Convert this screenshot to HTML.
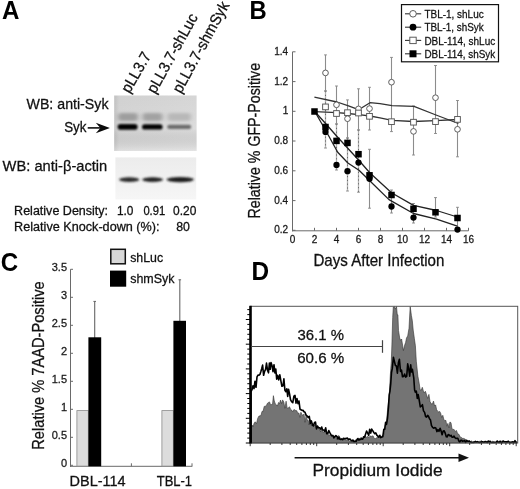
<!DOCTYPE html>
<html><head><meta charset="utf-8"><style>
html,body{margin:0;padding:0;background:#fff;}
svg{display:block;will-change:transform;}
text{font-family:"Liberation Sans", sans-serif;}
</style></head><body>
<svg width="520" height="489" viewBox="0 0 520 489" font-family="Liberation Sans, sans-serif">
<rect width="520" height="489" fill="#fff"/>
<text x="2.0" y="19" font-size="26" text-anchor="start" fill="#000" font-weight="bold" textLength="17.4" lengthAdjust="spacingAndGlyphs" >A</text>
<text x="249.4" y="19" font-size="26" text-anchor="start" fill="#000" font-weight="bold" textLength="17.2" lengthAdjust="spacingAndGlyphs" >B</text>
<text x="0.8" y="270.9" font-size="26" text-anchor="start" fill="#000" font-weight="bold" textLength="17.4" lengthAdjust="spacingAndGlyphs" >C</text>
<text x="251.6" y="280.2" font-size="26" text-anchor="start" fill="#000" font-weight="bold" textLength="17.6" lengthAdjust="spacingAndGlyphs" >D</text>
<text x="0" y="0" font-size="15.5" fill="#111" stroke="#111" stroke-width="0.28" textLength="44" lengthAdjust="spacingAndGlyphs" transform="translate(129.4,94) rotate(-60)">pLL3.7</text>
<text x="0" y="0" font-size="15.5" fill="#111" stroke="#111" stroke-width="0.28" textLength="88.5" lengthAdjust="spacingAndGlyphs" transform="translate(155.3,94.6) rotate(-61)">pLL3.7-shLuc</text>
<text x="0" y="0" font-size="15.5" fill="#111" stroke="#111" stroke-width="0.28" textLength="101.5" lengthAdjust="spacingAndGlyphs" transform="translate(180.9,94.2) rotate(-61.3)">pLL3.7-shmSyk</text>
<defs><filter id="bl1" x="-20%" y="-100%" width="140%" height="300%"><feGaussianBlur stdDeviation="1.2 0.9"/></filter><filter id="bl2" x="-20%" y="-100%" width="140%" height="300%"><feGaussianBlur stdDeviation="2 1.5"/></filter><linearGradient id="blotg" x1="0" x2="1" y1="0" y2="0"><stop offset="0" stop-color="#c6c6c6"/><stop offset="0.06" stop-color="#d7d7d7"/><stop offset="1" stop-color="#dcdcdc"/></linearGradient><linearGradient id="blotg2" x1="0" x2="0" y1="0" y2="1"><stop offset="0" stop-color="#ececec"/><stop offset="0.5" stop-color="#f1f1f1"/><stop offset="1" stop-color="#f6f6f6"/></linearGradient><linearGradient id="blotv" x1="0" x2="0" y1="0" y2="1"><stop offset="0" stop-color="#000" stop-opacity="0.03"/><stop offset="0.6" stop-color="#000" stop-opacity="0"/><stop offset="1" stop-color="#fff" stop-opacity="0.25"/></linearGradient></defs>
<rect x="114.2" y="95.5" width="82.4" height="55.5" fill="url(#blotg)"/>
<rect x="114.2" y="95.5" width="82.4" height="55.5" fill="url(#blotv)"/>
<rect x="118" y="113" width="20" height="8" rx="3" fill="#9e9e9e" filter="url(#bl2)"/>
<rect x="142.5" y="113" width="20.0" height="8" rx="3" fill="#a2a2a2" filter="url(#bl2)"/>
<rect x="167.5" y="113" width="23.5" height="8" rx="3" fill="#b8b8b8" filter="url(#bl2)"/>
<rect x="117.6" y="124.10000000000001" width="20.0" height="5.6" rx="2.8" fill="#000" filter="url(#bl1)"/>
<rect x="142" y="124.2" width="20.599999999999994" height="5.4" rx="2.7" fill="#000" filter="url(#bl1)"/>
<rect x="167.2" y="124.80000000000001" width="24.0" height="4.2" rx="2.1" fill="#6a6a6a" filter="url(#bl1)"/>
<rect x="115.4" y="157.4" width="80.8" height="42" fill="url(#blotg2)"/>
<ellipse cx="129.2" cy="179.6" rx="10.200000000000003" ry="2.3" fill="#2a2a2a" filter="url(#bl1)"/>
<ellipse cx="152.6" cy="179.6" rx="10.400000000000006" ry="2.3" fill="#222" filter="url(#bl1)"/>
<ellipse cx="180.25" cy="179.6" rx="13.550000000000011" ry="2.6" fill="#1c1c1c" filter="url(#bl1)"/>
<text x="108.5" y="109.4" font-size="15.2" text-anchor="end" fill="#111" stroke="#111" stroke-width="0.28" textLength="82" lengthAdjust="spacingAndGlyphs" >WB: anti-Syk</text>
<text x="86.5" y="132" font-size="15.2" text-anchor="end" fill="#111" stroke="#111" stroke-width="0.28" textLength="22.3" lengthAdjust="spacingAndGlyphs" >Syk</text>
<line x1="87.7" y1="127.9" x2="101" y2="127.9" stroke="#111" stroke-width="1.6"/>
<path d="M109.9,127.9 L95.8,122.7 L100.4,127.9 L95.8,133.3 Z" fill="#0a0a0a"/>
<text x="2.6" y="171.3" font-size="15.2" text-anchor="start" fill="#111" stroke="#111" stroke-width="0.28" textLength="104.7" lengthAdjust="spacingAndGlyphs" >WB: anti-β-actin</text>
<text x="14.1" y="214.8" font-size="12.5" text-anchor="start" fill="#111" stroke="#111" stroke-width="0.28" textLength="94" lengthAdjust="spacingAndGlyphs" >Relative Density:</text>
<text x="116.9" y="214.8" font-size="12.5" text-anchor="start" fill="#111" stroke="#111" stroke-width="0.28" textLength="16.5" lengthAdjust="spacingAndGlyphs" >1.0</text>
<text x="143.4" y="214.8" font-size="12.5" text-anchor="start" fill="#111" stroke="#111" stroke-width="0.28" textLength="21.8" lengthAdjust="spacingAndGlyphs" >0.91</text>
<text x="173" y="214.8" font-size="12.5" text-anchor="start" fill="#111" stroke="#111" stroke-width="0.28" textLength="23.3" lengthAdjust="spacingAndGlyphs" >0.20</text>
<text x="14.1" y="231.3" font-size="12.5" text-anchor="start" fill="#111" stroke="#111" stroke-width="0.28" textLength="145.4" lengthAdjust="spacingAndGlyphs" >Relative Knock-down (%):</text>
<text x="176.2" y="231.3" font-size="12.5" text-anchor="start" fill="#111" stroke="#111" stroke-width="0.28" textLength="13.7" lengthAdjust="spacingAndGlyphs" >80</text>
<line x1="292.5" y1="51.8" x2="292.5" y2="231.3" stroke="#6a6a6a" stroke-width="1"/>
<line x1="292" y1="230.8" x2="468.5" y2="230.8" stroke="#6a6a6a" stroke-width="1"/>
<line x1="292.5" y1="230.3" x2="295.5" y2="230.3" stroke="#6a6a6a" stroke-width="1"/>
<text x="288.2" y="233.4" font-size="10" text-anchor="end" fill="#1a1a1a" stroke="#1a1a1a" stroke-width="0.28" >0.2</text>
<line x1="292.5" y1="200.6" x2="295.5" y2="200.6" stroke="#6a6a6a" stroke-width="1"/>
<text x="288.2" y="203.7" font-size="10" text-anchor="end" fill="#1a1a1a" stroke="#1a1a1a" stroke-width="0.28" >0.4</text>
<line x1="292.5" y1="170.8" x2="295.5" y2="170.8" stroke="#6a6a6a" stroke-width="1"/>
<text x="288.2" y="173.9" font-size="10" text-anchor="end" fill="#1a1a1a" stroke="#1a1a1a" stroke-width="0.28" >0.6</text>
<line x1="292.5" y1="141.0" x2="295.5" y2="141.0" stroke="#6a6a6a" stroke-width="1"/>
<text x="288.2" y="144.1" font-size="10" text-anchor="end" fill="#1a1a1a" stroke="#1a1a1a" stroke-width="0.28" >0.8</text>
<line x1="292.5" y1="111.3" x2="295.5" y2="111.3" stroke="#6a6a6a" stroke-width="1"/>
<text x="288.2" y="114.39999999999999" font-size="10" text-anchor="end" fill="#1a1a1a" stroke="#1a1a1a" stroke-width="0.28" >1</text>
<line x1="292.5" y1="81.6" x2="295.5" y2="81.6" stroke="#6a6a6a" stroke-width="1"/>
<text x="288.2" y="84.69999999999999" font-size="10" text-anchor="end" fill="#1a1a1a" stroke="#1a1a1a" stroke-width="0.28" >1.2</text>
<line x1="292.5" y1="51.8" x2="295.5" y2="51.8" stroke="#6a6a6a" stroke-width="1"/>
<text x="288.2" y="54.9" font-size="10" text-anchor="end" fill="#1a1a1a" stroke="#1a1a1a" stroke-width="0.28" >1.4</text>
<line x1="292.5" y1="230.8" x2="292.5" y2="227.8" stroke="#6a6a6a" stroke-width="1"/>
<text x="292.5" y="243.2" font-size="10" text-anchor="middle" fill="#1a1a1a" stroke="#1a1a1a" stroke-width="0.28" >0</text>
<line x1="314.5" y1="230.8" x2="314.5" y2="227.8" stroke="#6a6a6a" stroke-width="1"/>
<text x="314.5" y="243.2" font-size="10" text-anchor="middle" fill="#1a1a1a" stroke="#1a1a1a" stroke-width="0.28" >2</text>
<line x1="336.5" y1="230.8" x2="336.5" y2="227.8" stroke="#6a6a6a" stroke-width="1"/>
<text x="336.5" y="243.2" font-size="10" text-anchor="middle" fill="#1a1a1a" stroke="#1a1a1a" stroke-width="0.28" >4</text>
<line x1="358.5" y1="230.8" x2="358.5" y2="227.8" stroke="#6a6a6a" stroke-width="1"/>
<text x="358.5" y="243.2" font-size="10" text-anchor="middle" fill="#1a1a1a" stroke="#1a1a1a" stroke-width="0.28" >6</text>
<line x1="380.5" y1="230.8" x2="380.5" y2="227.8" stroke="#6a6a6a" stroke-width="1"/>
<text x="380.5" y="243.2" font-size="10" text-anchor="middle" fill="#1a1a1a" stroke="#1a1a1a" stroke-width="0.28" >8</text>
<line x1="402.5" y1="230.8" x2="402.5" y2="227.8" stroke="#6a6a6a" stroke-width="1"/>
<text x="402.5" y="243.2" font-size="10" text-anchor="middle" fill="#1a1a1a" stroke="#1a1a1a" stroke-width="0.28" >10</text>
<line x1="424.5" y1="230.8" x2="424.5" y2="227.8" stroke="#6a6a6a" stroke-width="1"/>
<text x="424.5" y="243.2" font-size="10" text-anchor="middle" fill="#1a1a1a" stroke="#1a1a1a" stroke-width="0.28" >12</text>
<line x1="446.5" y1="230.8" x2="446.5" y2="227.8" stroke="#6a6a6a" stroke-width="1"/>
<text x="446.5" y="243.2" font-size="10" text-anchor="middle" fill="#1a1a1a" stroke="#1a1a1a" stroke-width="0.28" >14</text>
<line x1="468.5" y1="230.8" x2="468.5" y2="227.8" stroke="#6a6a6a" stroke-width="1"/>
<text x="468.5" y="243.2" font-size="10" text-anchor="middle" fill="#1a1a1a" stroke="#1a1a1a" stroke-width="0.28" >16</text>
<text x="313.4" y="265.8" font-size="15.7" text-anchor="start" fill="#111" stroke="#111" stroke-width="0.28" textLength="131" lengthAdjust="spacingAndGlyphs" >Days After Infection</text>
<text x="0" y="0" font-size="16" fill="#111" stroke="#111" stroke-width="0.28" textLength="155.6" lengthAdjust="spacingAndGlyphs" transform="translate(259.7,218.5) rotate(-90)">Relative % GFP-Positive</text>
<line x1="325.5" y1="54.9" x2="325.5" y2="91" stroke="#8c8c8c" stroke-width="1.1"/>
<line x1="324.1" y1="54.9" x2="326.9" y2="54.9" stroke="#8c8c8c" stroke-width="1"/>
<line x1="324.1" y1="91" x2="326.9" y2="91" stroke="#8c8c8c" stroke-width="1"/>
<line x1="325.5" y1="91" x2="325.5" y2="148" stroke="#b4b4b4" stroke-width="1.3"/>
<line x1="325.5" y1="91" x2="325.5" y2="148" stroke="#6a6a6a" stroke-width="1" stroke-dasharray="1.2 2.6"/>
<line x1="324.1" y1="91" x2="326.9" y2="91" stroke="#8c8c8c" stroke-width="1"/>
<line x1="324.1" y1="148" x2="326.9" y2="148" stroke="#8c8c8c" stroke-width="1"/>
<line x1="336.5" y1="86" x2="336.5" y2="124" stroke="#8c8c8c" stroke-width="1.1"/>
<line x1="335.1" y1="86" x2="337.9" y2="86" stroke="#8c8c8c" stroke-width="1"/>
<line x1="335.1" y1="124" x2="337.9" y2="124" stroke="#8c8c8c" stroke-width="1"/>
<line x1="336.5" y1="124" x2="336.5" y2="170" stroke="#b4b4b4" stroke-width="1.3"/>
<line x1="336.5" y1="124" x2="336.5" y2="170" stroke="#6a6a6a" stroke-width="1" stroke-dasharray="1.2 2.6"/>
<line x1="335.1" y1="124" x2="337.9" y2="124" stroke="#8c8c8c" stroke-width="1"/>
<line x1="335.1" y1="170" x2="337.9" y2="170" stroke="#8c8c8c" stroke-width="1"/>
<line x1="347.5" y1="99.9" x2="347.5" y2="138" stroke="#8c8c8c" stroke-width="1.1"/>
<line x1="346.1" y1="99.9" x2="348.9" y2="99.9" stroke="#8c8c8c" stroke-width="1"/>
<line x1="346.1" y1="138" x2="348.9" y2="138" stroke="#8c8c8c" stroke-width="1"/>
<line x1="347.5" y1="138" x2="347.5" y2="191" stroke="#b4b4b4" stroke-width="1.3"/>
<line x1="347.5" y1="138" x2="347.5" y2="191" stroke="#6a6a6a" stroke-width="1" stroke-dasharray="1.2 2.6"/>
<line x1="346.1" y1="138" x2="348.9" y2="138" stroke="#8c8c8c" stroke-width="1"/>
<line x1="346.1" y1="191" x2="348.9" y2="191" stroke="#8c8c8c" stroke-width="1"/>
<line x1="358.5" y1="88.8" x2="358.5" y2="130" stroke="#8c8c8c" stroke-width="1.1"/>
<line x1="357.1" y1="88.8" x2="359.9" y2="88.8" stroke="#8c8c8c" stroke-width="1"/>
<line x1="357.1" y1="130" x2="359.9" y2="130" stroke="#8c8c8c" stroke-width="1"/>
<line x1="358.5" y1="130" x2="358.5" y2="192.2" stroke="#b4b4b4" stroke-width="1.3"/>
<line x1="358.5" y1="130" x2="358.5" y2="192.2" stroke="#6a6a6a" stroke-width="1" stroke-dasharray="1.2 2.6"/>
<line x1="357.1" y1="130" x2="359.9" y2="130" stroke="#8c8c8c" stroke-width="1"/>
<line x1="357.1" y1="192.2" x2="359.9" y2="192.2" stroke="#8c8c8c" stroke-width="1"/>
<line x1="369.5" y1="87.3" x2="369.5" y2="130" stroke="#8c8c8c" stroke-width="1.1"/>
<line x1="368.1" y1="87.3" x2="370.9" y2="87.3" stroke="#8c8c8c" stroke-width="1"/>
<line x1="368.1" y1="130" x2="370.9" y2="130" stroke="#8c8c8c" stroke-width="1"/>
<line x1="369.5" y1="149.3" x2="369.5" y2="208.2" stroke="#8c8c8c" stroke-width="1.1"/>
<line x1="368.1" y1="149.3" x2="370.9" y2="149.3" stroke="#8c8c8c" stroke-width="1"/>
<line x1="368.1" y1="208.2" x2="370.9" y2="208.2" stroke="#8c8c8c" stroke-width="1"/>
<line x1="391.5" y1="57.4" x2="391.5" y2="131.6" stroke="#8c8c8c" stroke-width="1.1"/>
<line x1="390.1" y1="57.4" x2="392.9" y2="57.4" stroke="#8c8c8c" stroke-width="1"/>
<line x1="390.1" y1="131.6" x2="392.9" y2="131.6" stroke="#8c8c8c" stroke-width="1"/>
<line x1="391.5" y1="190" x2="391.5" y2="213" stroke="#8c8c8c" stroke-width="1.1"/>
<line x1="390.1" y1="190" x2="392.9" y2="190" stroke="#8c8c8c" stroke-width="1"/>
<line x1="390.1" y1="213" x2="392.9" y2="213" stroke="#8c8c8c" stroke-width="1"/>
<line x1="413.5" y1="106" x2="413.5" y2="155" stroke="#8c8c8c" stroke-width="1.1"/>
<line x1="412.1" y1="106" x2="414.9" y2="106" stroke="#8c8c8c" stroke-width="1"/>
<line x1="412.1" y1="155" x2="414.9" y2="155" stroke="#8c8c8c" stroke-width="1"/>
<line x1="413.5" y1="203.5" x2="413.5" y2="223" stroke="#8c8c8c" stroke-width="1.1"/>
<line x1="412.1" y1="203.5" x2="414.9" y2="203.5" stroke="#8c8c8c" stroke-width="1"/>
<line x1="412.1" y1="223" x2="414.9" y2="223" stroke="#8c8c8c" stroke-width="1"/>
<line x1="435.5" y1="65.5" x2="435.5" y2="133.5" stroke="#8c8c8c" stroke-width="1.1"/>
<line x1="434.1" y1="65.5" x2="436.9" y2="65.5" stroke="#8c8c8c" stroke-width="1"/>
<line x1="434.1" y1="133.5" x2="436.9" y2="133.5" stroke="#8c8c8c" stroke-width="1"/>
<line x1="435.5" y1="197.6" x2="435.5" y2="217" stroke="#8c8c8c" stroke-width="1.1"/>
<line x1="434.1" y1="197.6" x2="436.9" y2="197.6" stroke="#8c8c8c" stroke-width="1"/>
<line x1="434.1" y1="217" x2="436.9" y2="217" stroke="#8c8c8c" stroke-width="1"/>
<line x1="457.5" y1="100.5" x2="457.5" y2="156.8" stroke="#8c8c8c" stroke-width="1.1"/>
<line x1="456.1" y1="100.5" x2="458.9" y2="100.5" stroke="#8c8c8c" stroke-width="1"/>
<line x1="456.1" y1="156.8" x2="458.9" y2="156.8" stroke="#8c8c8c" stroke-width="1"/>
<line x1="457.5" y1="207.3" x2="457.5" y2="228.7" stroke="#8c8c8c" stroke-width="1.1"/>
<line x1="456.1" y1="207.3" x2="458.9" y2="207.3" stroke="#8c8c8c" stroke-width="1"/>
<line x1="456.1" y1="228.7" x2="458.9" y2="228.7" stroke="#8c8c8c" stroke-width="1"/>
<polyline points="314.4,97.1 337.0,102.0 347.8,105.6 358.6,109.7 370.0,102.7 380.0,103.7 392.0,105.6 414.0,106.4 436.0,115.0 458.4,123.5" fill="none" stroke="#333" stroke-width="1.3" stroke-linejoin="round" />
<polyline points="314.7,111.7 337.0,112.7 347.8,113.5 358.9,114.6 370.0,116.0 380.0,117.9 392.0,120.3 413.5,121.5 435.4,120.7 458.0,119.5" fill="none" stroke="#333" stroke-width="1.3" stroke-linejoin="round" />
<polyline points="314.8,111.5 326.0,124.0 337.0,136.5 348.0,148.5 359.0,160.5 370.0,173.0 391.5,192.7 413.5,205.4 436.5,210.5 457.3,217.0" fill="none" stroke="#222" stroke-width="1.3" stroke-linejoin="round" />
<polyline points="314.8,111.5 326.0,131.0 337.7,152.3 347.9,163.0 359.0,170.3 370.0,181.0 389.0,199.6 413.5,213.5 436.5,219.2 457.3,226.2" fill="none" stroke="#222" stroke-width="1.3" stroke-linejoin="round" />
<circle cx="325.5" cy="72.9" r="2.85" fill="#fff" stroke="#555" stroke-width="0.95"/>
<circle cx="336.5" cy="104.8" r="2.85" fill="#fff" stroke="#555" stroke-width="0.95"/>
<circle cx="347.5" cy="118.7" r="2.85" fill="#fff" stroke="#555" stroke-width="0.95"/>
<circle cx="358.5" cy="108.9" r="2.85" fill="#fff" stroke="#555" stroke-width="0.95"/>
<circle cx="369.5" cy="108.6" r="2.85" fill="#fff" stroke="#555" stroke-width="0.95"/>
<circle cx="391.5" cy="82.2" r="2.85" fill="#fff" stroke="#555" stroke-width="0.95"/>
<circle cx="413.5" cy="131.4" r="2.85" fill="#fff" stroke="#555" stroke-width="0.95"/>
<circle cx="435.5" cy="97.7" r="2.85" fill="#fff" stroke="#555" stroke-width="0.95"/>
<circle cx="457.5" cy="129.3" r="2.85" fill="#fff" stroke="#555" stroke-width="0.95"/>
<rect x="322.65" y="104.05000000000001" width="5.7" height="5.7" fill="#fff" stroke="#555" stroke-width="0.95"/>
<rect x="333.65" y="110.65" width="5.7" height="5.7" fill="#fff" stroke="#555" stroke-width="0.95"/>
<rect x="344.65" y="109.85000000000001" width="5.7" height="5.7" fill="#fff" stroke="#555" stroke-width="0.95"/>
<rect x="355.65" y="110.15" width="5.7" height="5.7" fill="#fff" stroke="#555" stroke-width="0.95"/>
<rect x="366.65" y="113.45" width="5.7" height="5.7" fill="#fff" stroke="#555" stroke-width="0.95"/>
<rect x="388.65" y="118.85000000000001" width="5.7" height="5.7" fill="#fff" stroke="#555" stroke-width="0.95"/>
<rect x="410.65" y="119.35000000000001" width="5.7" height="5.7" fill="#fff" stroke="#555" stroke-width="0.95"/>
<rect x="432.65" y="118.75" width="5.7" height="5.7" fill="#fff" stroke="#555" stroke-width="0.95"/>
<rect x="454.65" y="116.55000000000001" width="5.7" height="5.7" fill="#fff" stroke="#555" stroke-width="0.95"/>
<circle cx="325.5" cy="131.9" r="3.15" fill="#000"/>
<circle cx="336.5" cy="165" r="3.15" fill="#000"/>
<circle cx="347.5" cy="171.2" r="3.15" fill="#000"/>
<circle cx="358.5" cy="162.6" r="3.15" fill="#000"/>
<circle cx="369.5" cy="178.8" r="3.15" fill="#000"/>
<circle cx="391.5" cy="206.5" r="3.15" fill="#000"/>
<circle cx="413.5" cy="217.6" r="3.15" fill="#000"/>
<circle cx="457.5" cy="229.6" r="3.15" fill="#000"/>
<rect x="311.25" y="108.25" width="6.5" height="6.5" fill="#000"/>
<rect x="322.25" y="123.75" width="6.5" height="6.5" fill="#000"/>
<rect x="333.25" y="137.65" width="6.5" height="6.5" fill="#000"/>
<rect x="344.25" y="139.65" width="6.5" height="6.5" fill="#000"/>
<rect x="355.25" y="150.95" width="6.5" height="6.5" fill="#000"/>
<rect x="366.25" y="172.05" width="6.5" height="6.5" fill="#000"/>
<rect x="388.25" y="191.75" width="6.5" height="6.5" fill="#000"/>
<rect x="410.25" y="205.55" width="6.5" height="6.5" fill="#000"/>
<rect x="432.25" y="209.05" width="6.5" height="6.5" fill="#000"/>
<rect x="454.25" y="214.75" width="6.5" height="6.5" fill="#000"/>
<rect x="401.5" y="4.6" width="97" height="57.2" fill="#fff" stroke="#111" stroke-width="1.2"/>
<line x1="405" y1="13.8" x2="421.2" y2="13.8" stroke="#333" stroke-width="1.1"/>
<circle cx="413" cy="13.8" r="3.3" fill="#fff" stroke="#555" stroke-width="0.95"/>
<text x="424.4" y="17.9" font-size="11.8" text-anchor="start" fill="#111" stroke="#111" stroke-width="0.28" textLength="59.3" lengthAdjust="spacingAndGlyphs" >TBL-1, shLuc</text>
<line x1="405" y1="27.2" x2="421.2" y2="27.2" stroke="#333" stroke-width="1.1"/>
<circle cx="413" cy="27.2" r="3.4" fill="#000"/>
<text x="424.4" y="31.299999999999997" font-size="11.8" text-anchor="start" fill="#111" stroke="#111" stroke-width="0.28" textLength="59.3" lengthAdjust="spacingAndGlyphs" >TBL-1, shSyk</text>
<line x1="405" y1="40.4" x2="421.2" y2="40.4" stroke="#333" stroke-width="1.1"/>
<rect x="409.8" y="37.199999999999996" width="6.4" height="6.4" fill="#fff" stroke="#555" stroke-width="0.95"/>
<text x="424.4" y="44.5" font-size="11.8" text-anchor="start" fill="#111" stroke="#111" stroke-width="0.28" textLength="70.80000000000001" lengthAdjust="spacingAndGlyphs" >DBL-114, shLuc</text>
<line x1="405" y1="53.8" x2="421.2" y2="53.8" stroke="#333" stroke-width="1.1"/>
<rect x="409.5" y="50.3" width="7" height="7" fill="#000"/>
<text x="424.4" y="57.9" font-size="11.8" text-anchor="start" fill="#111" stroke="#111" stroke-width="0.28" textLength="70.80000000000001" lengthAdjust="spacingAndGlyphs" >DBL-114, shSyk</text>
<line x1="70.5" y1="269.3" x2="70.5" y2="466.8" stroke="#6a6a6a" stroke-width="1"/>
<line x1="70" y1="466.3" x2="192.3" y2="466.3" stroke="#6a6a6a" stroke-width="1"/>
<line x1="131.4" y1="466.3" x2="131.4" y2="463.3" stroke="#6a6a6a" stroke-width="1"/>
<line x1="192" y1="466.3" x2="192" y2="463.3" stroke="#6a6a6a" stroke-width="1"/>
<line x1="70.5" y1="465.3" x2="73" y2="465.3" stroke="#6a6a6a" stroke-width="1"/>
<text x="67" y="467.40000000000003" font-size="11" text-anchor="end" fill="#1a1a1a" stroke="#1a1a1a" stroke-width="0.28" >0</text>
<line x1="70.5" y1="437.3" x2="73" y2="437.3" stroke="#6a6a6a" stroke-width="1"/>
<text x="67" y="439.40000000000003" font-size="11" text-anchor="end" fill="#1a1a1a" stroke="#1a1a1a" stroke-width="0.28" >0.5</text>
<line x1="70.5" y1="409.3" x2="73" y2="409.3" stroke="#6a6a6a" stroke-width="1"/>
<text x="67" y="411.40000000000003" font-size="11" text-anchor="end" fill="#1a1a1a" stroke="#1a1a1a" stroke-width="0.28" >1</text>
<line x1="70.5" y1="381.3" x2="73" y2="381.3" stroke="#6a6a6a" stroke-width="1"/>
<text x="67" y="383.40000000000003" font-size="11" text-anchor="end" fill="#1a1a1a" stroke="#1a1a1a" stroke-width="0.28" >1.5</text>
<line x1="70.5" y1="353.3" x2="73" y2="353.3" stroke="#6a6a6a" stroke-width="1"/>
<text x="67" y="355.40000000000003" font-size="11" text-anchor="end" fill="#1a1a1a" stroke="#1a1a1a" stroke-width="0.28" >2</text>
<line x1="70.5" y1="325.3" x2="73" y2="325.3" stroke="#6a6a6a" stroke-width="1"/>
<text x="67" y="327.40000000000003" font-size="11" text-anchor="end" fill="#1a1a1a" stroke="#1a1a1a" stroke-width="0.28" >2.5</text>
<line x1="70.5" y1="297.3" x2="73" y2="297.3" stroke="#6a6a6a" stroke-width="1"/>
<text x="67" y="299.40000000000003" font-size="11" text-anchor="end" fill="#1a1a1a" stroke="#1a1a1a" stroke-width="0.28" >3</text>
<line x1="70.5" y1="269.3" x2="73" y2="269.3" stroke="#6a6a6a" stroke-width="1"/>
<text x="67" y="271.40000000000003" font-size="11" text-anchor="end" fill="#1a1a1a" stroke="#1a1a1a" stroke-width="0.28" >3.5</text>
<rect x="76.9" y="410.6" width="11.4" height="55.5" fill="#dcdcdc" stroke="#8a8a8a" stroke-width="0.8"/>
<rect x="161.9" y="410.6" width="11.4" height="55.5" fill="#dcdcdc" stroke="#8a8a8a" stroke-width="0.8"/>
<line x1="94.7" y1="301.2" x2="94.7" y2="338" stroke="#666" stroke-width="1.1"/>
<line x1="93.4" y1="301.4" x2="96" y2="301.4" stroke="#666" stroke-width="1"/>
<line x1="179.8" y1="279.6" x2="179.8" y2="322" stroke="#666" stroke-width="1.1"/>
<line x1="178.5" y1="279.8" x2="181.1" y2="279.8" stroke="#666" stroke-width="1"/>
<rect x="88.4" y="337.3" width="12.8" height="129" fill="#000"/>
<rect x="173.4" y="320.8" width="12.6" height="145.5" fill="#000"/>
<rect x="110.8" y="249.3" width="14.5" height="14.5" fill="#d8d8d8" stroke="#111" stroke-width="1.5"/>
<rect x="110" y="270.6" width="16.2" height="16.1" fill="#000"/>
<text x="130.2" y="262" font-size="13.6" text-anchor="start" fill="#111" stroke="#111" stroke-width="0.28" textLength="33" lengthAdjust="spacingAndGlyphs" >shLuc</text>
<text x="130.2" y="282.5" font-size="13.6" text-anchor="start" fill="#111" stroke="#111" stroke-width="0.28" textLength="44.4" lengthAdjust="spacingAndGlyphs" >shmSyk</text>
<text x="69.6" y="486.0" font-size="14" text-anchor="start" fill="#111" stroke="#111" stroke-width="0.28" textLength="56" lengthAdjust="spacingAndGlyphs" >DBL-114</text>
<text x="156.7" y="486.0" font-size="14.5" text-anchor="start" fill="#111" stroke="#111" stroke-width="0.28" textLength="35.4" lengthAdjust="spacingAndGlyphs" >TBL-1</text>
<text x="0" y="0" font-size="16" fill="#111" stroke="#111" stroke-width="0.28" textLength="168.4" lengthAdjust="spacingAndGlyphs" transform="translate(44.2,449.7) rotate(-90)">Relative % 7AAD-Positive</text>
<polygon points="250.5,443 250.5,430.1 251.0,429.9 252.1,425.1 253.1,426.8 254.1,423.3 255.2,421.8 256.5,423.7 257.7,418.4 259.0,415.9 260.0,416.0 261.0,415.3 262.0,411.4 263.1,411.3 264.2,406.4 265.3,406.2 266.3,405.7 267.4,403.3 268.4,402.5 269.5,401.9 270.5,404.7 271.6,404.5 272.6,403.8 273.4,395.7 274.3,400.9 275.3,403.9 276.4,404.8 277.4,406.1 278.5,402.5 279.5,403.6 280.5,400.1 281.6,403.6 282.6,399.9 283.8,402.1 284.9,408.3 286.1,401.2 287.2,408.4 288.4,407.8 289.5,406.8 290.5,409.2 291.6,410.0 292.6,411.9 293.7,409.8 294.7,409.7 295.7,410.6 296.8,410.7 297.8,413.5 298.9,412.9 299.9,417.4 300.9,412.3 301.9,414.5 303.0,415.5 304.0,414.0 305.0,422.3 306.1,415.3 307.1,419.9 308.2,420.3 309.2,425.0 310.3,419.6 311.4,425.6 312.6,423.2 313.8,424.9 314.9,424.9 316.1,427.7 317.2,425.6 318.4,427.8 319.5,429.1 320.6,431.8 321.8,426.3 323.0,432.4 324.1,432.1 325.2,430.9 326.4,432.7 327.6,432.4 328.7,435.8 329.9,434.7 331.0,434.9 332.2,435.4 333.3,435.8 334.5,436.3 335.7,436.0 336.8,439.5 338.0,435.9 339.1,435.8 340.2,438.2 341.3,438.4 342.4,439.1 343.5,438.8 344.5,439.1 345.6,439.8 346.7,440.6 347.8,439.6 348.9,440.0 350.0,442.0 351.1,440.8 352.3,439.6 353.4,442.1 354.6,440.8 355.7,439.7 356.9,439.1 358.0,440.2 359.0,438.9 360.0,438.3 361.0,437.6 362.0,437.9 363.0,439.1 364.0,437.2 365.0,435.7 366.0,437.5 367.0,436.5 368.0,436.9 369.0,437.5 370.0,436.1 371.0,436.2 372.0,436.5 373.0,435.7 374.0,437.9 375.0,439.0 376.0,438.2 377.0,437.6 378.0,437.5 379.0,436.8 380.0,436.7 381.3,436.5 382.5,435.4 383.8,435.3 385.1,426.0 386.5,421.6 388.0,405.1 389.2,397.2 390.3,375.3 391.3,361.3 391.9,344.9 392.7,317.5 393.3,307.0 394.4,306.5 395.4,309.1 396.5,306.5 397.3,315.0 397.9,314.8 398.5,330.5 399.7,338.1 400.6,340.3 401.6,339.0 402.8,346.6 403.4,350.6 404.6,345.3 405.6,342.6 406.5,338.0 407.7,335.9 409.0,328.3 410.2,306.5 411.4,315.5 412.3,320.6 413.2,330.1 414.4,338.8 415.4,345.8 416.3,361.2 417.9,376.3 419.2,383.3 420.2,390.0 421.3,390.1 422.3,387.3 423.3,390.7 424.4,393.0 425.4,391.3 426.5,394.6 427.7,398.5 428.9,394.4 430.0,401.5 431.1,403.6 432.3,404.2 433.5,401.1 434.6,406.0 435.6,404.9 436.6,409.6 437.6,411.2 438.7,411.9 439.7,411.4 440.7,413.3 441.7,417.5 442.8,415.3 443.8,419.3 444.8,420.6 445.9,420.4 446.9,426.2 447.9,423.4 448.9,427.9 449.9,422.0 451.0,422.7 452.0,428.9 453.0,429.4 454.1,429.5 455.3,431.4 456.5,430.5 457.6,433.7 458.6,434.0 459.7,435.8 460.7,437.7 461.7,437.6 462.8,438.6 463.8,438.4 464.9,439.0 466.0,439.8 467.1,439.8 468.1,441.4 469.2,440.1 470.3,442.4 471.4,440.7 472.5,442.2 473.7,441.0 474.8,442.5 475.9,441.7 477.1,441.9 478.2,442.2 479.3,441.4 480.5,441.2 481.6,440.6 482.7,442.5 483.9,441.5 485.0,441.7 486.1,442.0 487.2,442.5 488.3,441.0 489.4,442.1 490.5,441.8 491.6,442.3 492.7,441.0 493.8,441.8 494.9,442.5 496.0,442.5 497.1,442.5 498.2,441.5 499.3,442.0 500.4,441.9 501.6,441.2 502.7,441.2 503.8,442.4 504.9,442.1 506.0,441.9 507.1,442.5 508.2,441.4 509.3,442.3 510.4,442.0 511.5,442.0 512.6,442.3 513.7,442.1 514.8,442.2 515.9,442.2 517.0,442.5 517,443" fill="#747474" stroke="#333" stroke-width="0.6"/>
<polyline points="251.0,442.5 251.0,391.6 252.0,389.7 253.0,385.7 254.0,388.6 255.0,381.2 256.0,387.3 257.0,376.9 258.0,375.1 259.0,375.3 259.9,374.4 260.8,371.7 261.7,368.7 262.6,365.1 263.6,375.3 264.6,371.3 265.6,369.3 266.5,363.0 267.5,370.1 268.5,372.8 269.4,363.0 270.2,369.3 271.0,362.5 272.0,365.4 273.0,371.6 274.0,364.7 274.9,372.9 275.8,369.1 276.7,379.1 277.6,375.2 278.7,379.9 279.8,374.7 280.8,380.3 281.9,386.3 283.0,385.7 283.9,378.8 284.9,390.3 285.9,391.7 286.8,388.7 287.7,396.4 288.6,389.4 289.6,394.2 290.5,399.7 291.6,401.6 292.8,402.7 293.9,396.2 295.0,395.4 296.0,403.2 297.0,398.6 298.0,403.6 299.0,401.1 300.0,409.2 301.0,409.8 302.0,410.4 303.0,410.2 304.0,411.7 305.0,412.2 306.1,415.1 307.1,415.9 308.2,417.6 309.3,416.4 310.3,423.5 311.4,420.9 312.4,424.9 313.4,426.0 314.5,422.4 315.5,422.1 316.5,429.0 317.6,426.2 318.6,427.8 319.6,427.7 320.6,429.1 321.6,427.3 322.7,430.0 323.7,430.0 324.7,431.3 325.7,427.8 326.7,433.7 327.8,433.4 328.8,430.5 329.8,432.7 330.8,434.4 331.8,435.9 332.8,435.4 333.9,437.9 334.9,436.5 335.9,435.6 337.0,436.6 338.0,438.9 338.9,437.3 339.8,439.2 340.8,439.5 341.7,439.1 342.6,439.7 343.5,438.3 344.5,438.8 345.4,438.4 346.4,438.7 347.3,438.0 348.3,439.4 349.2,439.1 350.2,439.1 351.2,440.6 352.1,440.9 353.1,440.2 354.1,441.8 355.1,441.4 356.0,441.5 357.0,439.9 357.9,438.5 358.9,440.1 359.8,439.4 360.8,439.4 361.7,438.6 362.7,439.2 363.6,436.7 364.6,437.2 365.6,434.1 366.6,431.0 367.6,433.0 368.7,435.4 369.7,429.2 370.7,433.1 371.7,429.1 372.7,430.7 373.8,432.5 374.8,433.7 375.8,432.9 376.8,435.1 377.8,436.1 378.8,437.1 379.8,435.3 380.8,437.6 381.8,437.1 382.8,436.7 383.8,429.3 384.7,429.3 385.6,422.4 386.5,424.4 387.5,418.3 388.5,407.0 389.2,394.9 389.9,391.6 390.7,384.2 391.5,372.5 392.3,368.4 393.4,357.3 394.4,361.4 395.4,365.5 396.4,366.0 397.4,373.1 398.4,362.8 399.4,359.2 400.5,371.4 401.5,370.2 402.5,376.8 403.6,376.5 404.6,374.0 405.6,377.1 406.7,376.4 407.7,363.8 408.7,369.0 409.7,376.2 410.7,364.8 411.5,372.0 412.4,369.3 413.8,378.2 414.6,390.0 415.4,392.1 416.3,391.0 417.3,398.4 418.2,394.6 419.2,400.0 420.3,406.9 421.4,406.1 422.4,404.7 423.5,410.9 424.6,412.4 425.6,416.5 426.6,417.1 427.6,415.4 428.5,416.4 429.5,418.8 430.5,420.1 431.5,425.6 432.6,427.3 433.7,428.2 434.7,427.6 435.8,427.9 436.9,431.6 437.9,429.7 439.0,431.3 440.1,428.3 441.1,431.1 442.1,434.8 443.2,431.0 444.2,430.8 445.3,433.4 446.3,436.8 447.2,436.9 448.2,434.6 449.1,434.9 450.1,436.0 451.1,435.3 452.0,437.2 453.0,437.2 454.0,436.1 454.9,437.7 455.9,438.5 456.9,438.2 457.8,438.3 458.8,440.9 459.7,442.2 460.7,440.4 461.7,440.4 462.6,441.4 463.6,440.9 464.6,440.6 465.6,442.5 466.5,440.7 467.5,441.1 468.5,441.3 469.5,441.3 470.4,441.9 471.4,442.5 472.4,442.5 473.4,442.5 474.4,442.2 475.4,441.4 476.4,442.1 477.3,441.6 478.3,442.1 479.3,442.5 480.3,442.3 481.3,442.0 482.3,441.7 483.3,442.1 484.3,442.2 485.3,441.5 486.3,441.8 487.3,442.5 488.3,441.0 489.2,441.8 490.2,441.3 491.2,442.5 492.2,442.5 493.2,442.5 494.2,442.4 495.2,442.3 496.2,442.3 497.2,441.0 498.2,442.3 499.2,442.5 500.1,441.1 501.1,442.5 502.1,442.5 503.1,441.0 504.1,441.7 505.1,441.8 506.1,441.7 507.1,442.3 508.1,441.2 509.1,441.9 510.1,442.2 511.1,442.5 512.0,442.1 513.0,441.8 514.0,442.5 515.0,440.6 516.0,442.5 517.0,441.8" fill="none" stroke="#000" stroke-width="1.6" stroke-linejoin="round" />
<rect x="250.5" y="306.3" width="267.2" height="136.7" fill="none" stroke="#555" stroke-width="1"/>
<line x1="250.5" y1="305.8" x2="250.5" y2="443.5" stroke="#000" stroke-width="2.6"/>
<line x1="245.8" y1="443.0" x2="250" y2="443.0" stroke="#000" stroke-width="1"/>
<line x1="247.3" y1="438.1" x2="250" y2="438.1" stroke="#000" stroke-width="1"/>
<line x1="247.3" y1="433.1" x2="250" y2="433.1" stroke="#000" stroke-width="1"/>
<line x1="247.3" y1="428.2" x2="250" y2="428.2" stroke="#000" stroke-width="1"/>
<line x1="247.3" y1="423.2" x2="250" y2="423.2" stroke="#000" stroke-width="1"/>
<line x1="245.8" y1="418.3" x2="250" y2="418.3" stroke="#000" stroke-width="1"/>
<line x1="247.3" y1="413.4" x2="250" y2="413.4" stroke="#000" stroke-width="1"/>
<line x1="247.3" y1="408.4" x2="250" y2="408.4" stroke="#000" stroke-width="1"/>
<line x1="247.3" y1="403.5" x2="250" y2="403.5" stroke="#000" stroke-width="1"/>
<line x1="247.3" y1="398.5" x2="250" y2="398.5" stroke="#000" stroke-width="1"/>
<line x1="245.8" y1="393.6" x2="250" y2="393.6" stroke="#000" stroke-width="1"/>
<line x1="247.3" y1="388.7" x2="250" y2="388.7" stroke="#000" stroke-width="1"/>
<line x1="247.3" y1="383.7" x2="250" y2="383.7" stroke="#000" stroke-width="1"/>
<line x1="247.3" y1="378.8" x2="250" y2="378.8" stroke="#000" stroke-width="1"/>
<line x1="247.3" y1="373.8" x2="250" y2="373.8" stroke="#000" stroke-width="1"/>
<line x1="245.8" y1="368.9" x2="250" y2="368.9" stroke="#000" stroke-width="1"/>
<line x1="247.3" y1="364.0" x2="250" y2="364.0" stroke="#000" stroke-width="1"/>
<line x1="247.3" y1="359.0" x2="250" y2="359.0" stroke="#000" stroke-width="1"/>
<line x1="247.3" y1="354.1" x2="250" y2="354.1" stroke="#000" stroke-width="1"/>
<line x1="247.3" y1="349.1" x2="250" y2="349.1" stroke="#000" stroke-width="1"/>
<line x1="245.8" y1="344.2" x2="250" y2="344.2" stroke="#000" stroke-width="1"/>
<line x1="247.3" y1="339.3" x2="250" y2="339.3" stroke="#000" stroke-width="1"/>
<line x1="247.3" y1="334.3" x2="250" y2="334.3" stroke="#000" stroke-width="1"/>
<line x1="247.3" y1="329.4" x2="250" y2="329.4" stroke="#000" stroke-width="1"/>
<line x1="247.3" y1="324.4" x2="250" y2="324.4" stroke="#000" stroke-width="1"/>
<line x1="245.8" y1="319.5" x2="250" y2="319.5" stroke="#000" stroke-width="1"/>
<line x1="247.3" y1="314.6" x2="250" y2="314.6" stroke="#000" stroke-width="1"/>
<line x1="247.3" y1="309.6" x2="250" y2="309.6" stroke="#000" stroke-width="1"/>
<line x1="250.2" y1="443" x2="250.2" y2="446.2" stroke="#222" stroke-width="0.9"/>
<line x1="270.2" y1="443" x2="270.2" y2="445" stroke="#222" stroke-width="0.9"/>
<line x1="281.9" y1="443" x2="281.9" y2="445" stroke="#222" stroke-width="0.9"/>
<line x1="290.2" y1="443" x2="290.2" y2="445" stroke="#222" stroke-width="0.9"/>
<line x1="296.7" y1="443" x2="296.7" y2="445" stroke="#222" stroke-width="0.9"/>
<line x1="301.9" y1="443" x2="301.9" y2="445" stroke="#222" stroke-width="0.9"/>
<line x1="306.4" y1="443" x2="306.4" y2="445" stroke="#222" stroke-width="0.9"/>
<line x1="310.3" y1="443" x2="310.3" y2="445" stroke="#222" stroke-width="0.9"/>
<line x1="313.7" y1="443" x2="313.7" y2="445" stroke="#222" stroke-width="0.9"/>
<line x1="316.7" y1="443" x2="316.7" y2="446.2" stroke="#222" stroke-width="0.9"/>
<line x1="336.7" y1="443" x2="336.7" y2="445" stroke="#222" stroke-width="0.9"/>
<line x1="348.4" y1="443" x2="348.4" y2="445" stroke="#222" stroke-width="0.9"/>
<line x1="356.7" y1="443" x2="356.7" y2="445" stroke="#222" stroke-width="0.9"/>
<line x1="363.2" y1="443" x2="363.2" y2="445" stroke="#222" stroke-width="0.9"/>
<line x1="368.4" y1="443" x2="368.4" y2="445" stroke="#222" stroke-width="0.9"/>
<line x1="372.9" y1="443" x2="372.9" y2="445" stroke="#222" stroke-width="0.9"/>
<line x1="376.8" y1="443" x2="376.8" y2="445" stroke="#222" stroke-width="0.9"/>
<line x1="380.2" y1="443" x2="380.2" y2="445" stroke="#222" stroke-width="0.9"/>
<line x1="383.2" y1="443" x2="383.2" y2="446.2" stroke="#222" stroke-width="0.9"/>
<line x1="403.2" y1="443" x2="403.2" y2="445" stroke="#222" stroke-width="0.9"/>
<line x1="414.9" y1="443" x2="414.9" y2="445" stroke="#222" stroke-width="0.9"/>
<line x1="423.2" y1="443" x2="423.2" y2="445" stroke="#222" stroke-width="0.9"/>
<line x1="429.7" y1="443" x2="429.7" y2="445" stroke="#222" stroke-width="0.9"/>
<line x1="434.9" y1="443" x2="434.9" y2="445" stroke="#222" stroke-width="0.9"/>
<line x1="439.4" y1="443" x2="439.4" y2="445" stroke="#222" stroke-width="0.9"/>
<line x1="443.3" y1="443" x2="443.3" y2="445" stroke="#222" stroke-width="0.9"/>
<line x1="446.7" y1="443" x2="446.7" y2="445" stroke="#222" stroke-width="0.9"/>
<line x1="449.7" y1="443" x2="449.7" y2="446.2" stroke="#222" stroke-width="0.9"/>
<line x1="469.7" y1="443" x2="469.7" y2="445" stroke="#222" stroke-width="0.9"/>
<line x1="481.4" y1="443" x2="481.4" y2="445" stroke="#222" stroke-width="0.9"/>
<line x1="489.7" y1="443" x2="489.7" y2="445" stroke="#222" stroke-width="0.9"/>
<line x1="496.2" y1="443" x2="496.2" y2="445" stroke="#222" stroke-width="0.9"/>
<line x1="501.4" y1="443" x2="501.4" y2="445" stroke="#222" stroke-width="0.9"/>
<line x1="505.9" y1="443" x2="505.9" y2="445" stroke="#222" stroke-width="0.9"/>
<line x1="509.8" y1="443" x2="509.8" y2="445" stroke="#222" stroke-width="0.9"/>
<line x1="513.2" y1="443" x2="513.2" y2="445" stroke="#222" stroke-width="0.9"/>
<line x1="516.2" y1="443" x2="516.2" y2="446.2" stroke="#222" stroke-width="0.9"/>
<line x1="251" y1="346.5" x2="382.5" y2="346.5" stroke="#444" stroke-width="1.2"/>
<line x1="382.5" y1="340.2" x2="382.5" y2="352.8" stroke="#444" stroke-width="1.2"/>
<text x="297.5" y="340.1" font-size="15" text-anchor="start" fill="#111" stroke="#111" stroke-width="0.28" textLength="46.4" lengthAdjust="spacingAndGlyphs" >36.1 %</text>
<text x="297.2" y="363.1" font-size="15" text-anchor="start" fill="#111" stroke="#111" stroke-width="0.28" textLength="47" lengthAdjust="spacingAndGlyphs" >60.6 %</text>
<line x1="294.6" y1="457.8" x2="462" y2="457.8" stroke="#111" stroke-width="1.5"/>
<path d="M469,457.8 L458.5,453.6 L458.5,462 Z" fill="#111"/>
<text x="312.5" y="476.2" font-size="16.4" text-anchor="start" fill="#111" stroke="#111" stroke-width="0.28" textLength="130.1" lengthAdjust="spacingAndGlyphs" >Propidium Iodide</text>
</svg></body></html>
